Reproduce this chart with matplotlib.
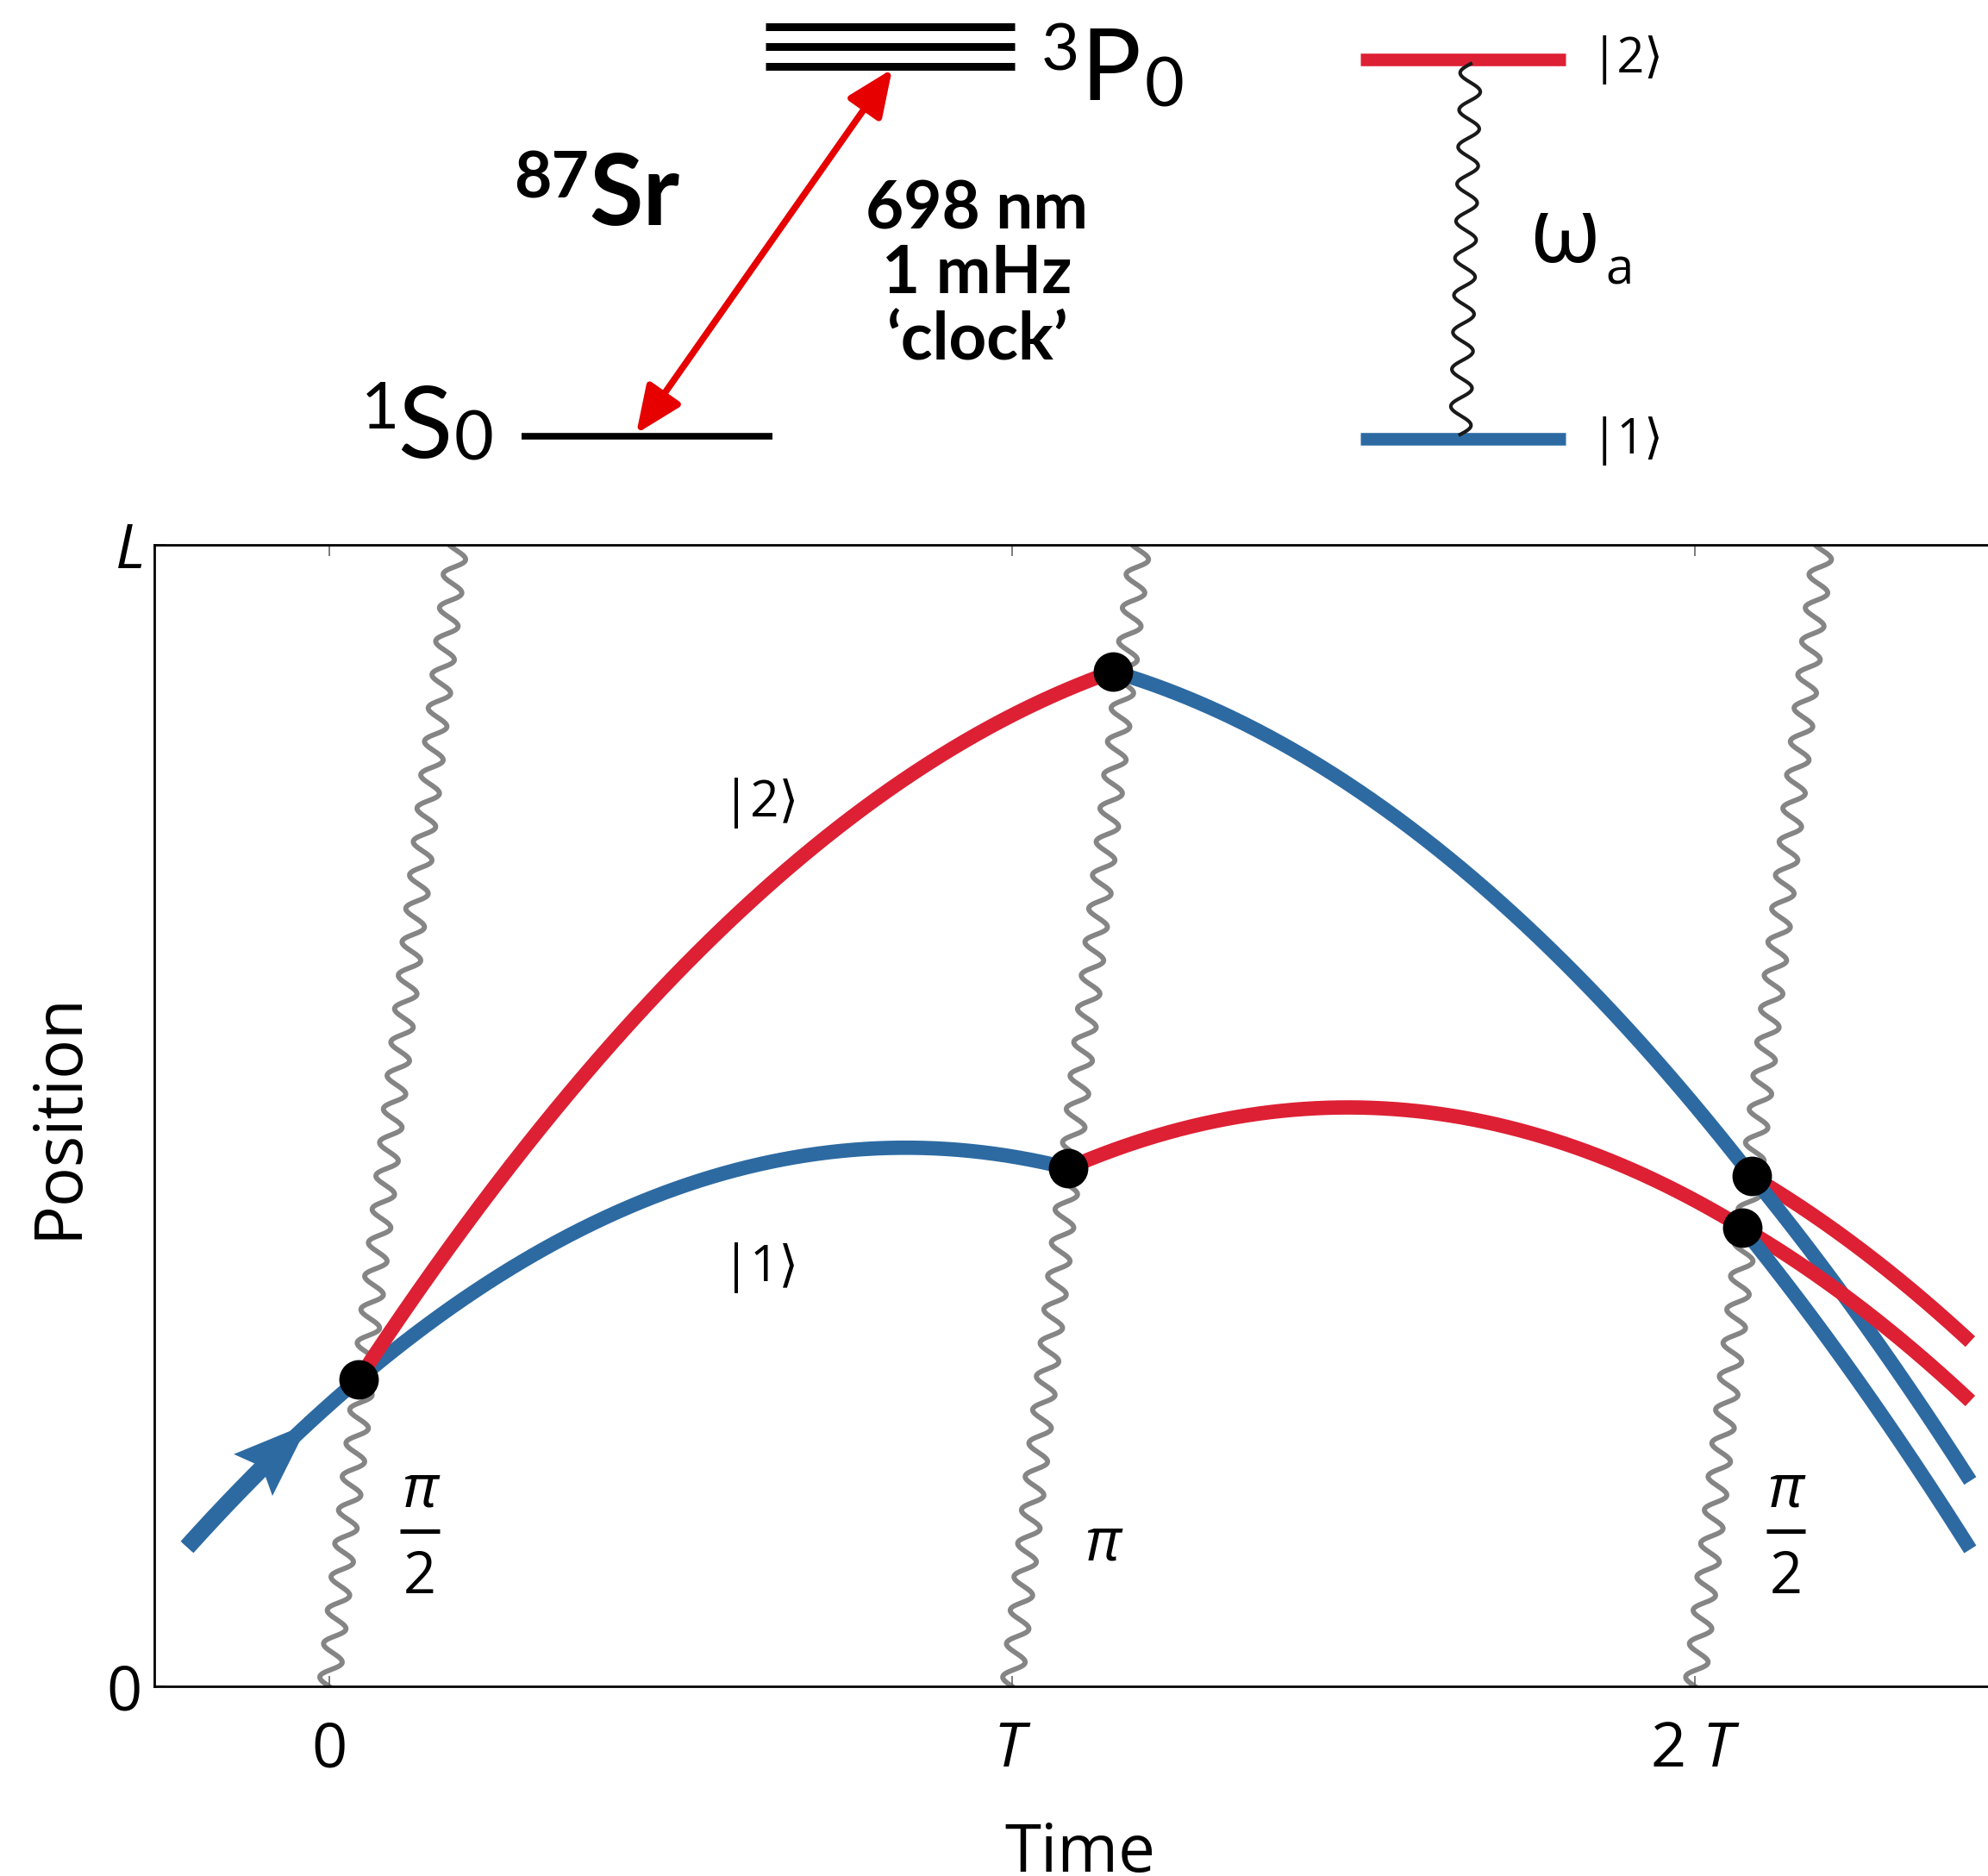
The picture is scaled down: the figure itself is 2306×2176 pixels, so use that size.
import numpy as np
import matplotlib
matplotlib.use("Agg")
import matplotlib.pyplot as plt
from matplotlib.patches import FancyArrowPatch, Polygon

plt.rcParams['font.family'] = ['Open Sans', 'DejaVu Sans']
plt.rcParams['mathtext.fontset'] = 'custom'
plt.rcParams['mathtext.rm'] = 'Open Sans'
plt.rcParams['mathtext.it'] = 'Open Sans:italic'

RED = '#DD2034'
BLUE = '#2D6AA2'
WAVE = '#858585'

# --- interferometer: time in units of T, position in units of L ---
half_g = 0.316                       # same curvature for every free-fall arc
pulse_times = [0, 1, 2]
pulse_labels = ['half', 'pi', 'half']
pulse_lean = 0.187                   # light front reaches x = L this much later
t_launch = -0.208
t_arrow = -0.03
t_end = 2.403

# scattering points (t, x)
nodes = {
    'A': (0.043, 0.269),
    'B': (1.148, 0.889),
    'C': (1.082, 0.454),
    'D': (2.083, 0.447),
    'E': (2.069, 0.402),
}
# the two arms between pulses
arms = [('A', 'C', BLUE), ('A', 'B', RED), ('B', 'D', BLUE), ('C', 'E', RED)]
# output ports: (node, colour, height at t_end)
ports = [('D', RED, 0.302), ('D', BLUE, 0.180), ('E', RED, 0.250), ('E', BLUE, 0.120)]

x_ticks = [0, 1, 2]
x_ticklabels = ['0', '$T$', '2 $T$']
y_ticks = [0, 1]
y_ticklabels = ['0', '$L$']


def arc(p, q, t0=None, t1=None, n=300):
    """parabola through p and q with the common curvature"""
    t0 = p[0] if t0 is None else t0
    t1 = q[0] if t1 is None else t1
    v = (q[1] - p[1]) / (q[0] - p[0]) + half_g * (q[0] - p[0])
    t = np.linspace(t0, t1, n)
    return t, p[1] + v * (t - p[0]) - half_g * (t - p[0]) ** 2


def wavy(p0, p1, period, amp, n=4000):
    p0, p1 = np.asarray(p0, float), np.asarray(p1, float)
    d = p1 - p0
    length = np.hypot(*d)
    u = d / length
    nrm = np.array([-u[1], u[0]])
    s = np.linspace(0, length, n)
    return p0 + np.outer(s, u) + np.outer(amp * np.sin(2 * np.pi * s / period), nrm)


fig = plt.figure(figsize=(23.06, 21.76), dpi=100)
ax = fig.add_axes([179 / 2306, 1 - 1956 / 2176, 1 - 179 / 2306, 1324 / 2176])
ax.set_xlim(-0.256, 2.429)
ax.set_ylim(0, 1)
to_px = ax.transData.transform
from_px = ax.transData.inverted().transform

for side in ['left', 'top', 'bottom']:
    ax.spines[side].set_linewidth(2)
ax.spines['right'].set_visible(False)
ax.set_xticks(x_ticks)
ax.set_xticklabels(x_ticklabels, fontsize=52)
ax.set_yticks(y_ticks)
ax.set_yticklabels(y_ticklabels, fontsize=52)
ax.tick_params(axis='x', direction='in', length=9, width=1.2, color='#666666',
               top=True, pad=28)
ax.tick_params(axis='y', direction='in', length=9, width=1.2, color='#666666', pad=10)
ax.set_xlabel('Time', fontsize=55, va='top')
ax.xaxis.set_label_coords(0.505, -0.118)
ax.set_ylabel('Position', fontsize=55, va='bottom')
ax.yaxis.set_label_coords(-0.034, 0.5)

# laser pulses travelling up through the cloud
for t0 in pulse_times:
    pts = wavy(to_px((t0, 0)), to_px((t0 + pulse_lean, 1)), period=39, amp=12)
    pts = from_px(pts)
    ax.plot(pts[:, 0], pts[:, 1], color=WAVE, lw=4.2, zorder=1)

# pulse areas
for t0, kind in zip(pulse_times, pulse_labels):
    tc = t0 + 0.133
    if kind == 'half':
        ax.text(tc, 0.171, 'π', style='italic', fontsize=50, ha='center', va='center')
        ax.plot([tc - 0.029, tc + 0.029], [0.1356, 0.1356], color='k', lw=3.7,
                solid_capstyle='butt')
        ax.text(tc, 0.095, '2', fontsize=48, ha='center', va='center')
    else:
        ax.text(tc, 0.124, 'π', style='italic', fontsize=50, ha='center', va='center')

# incoming atom and the two arms
lw = 12
for a, b, col in arms:
    t0 = t_launch if (a, b) == ('A', 'C') else None
    t, x = arc(nodes[a], nodes[b], t0=t0)
    ax.plot(t, x, color=col, lw=lw, solid_capstyle='butt', zorder=2)

for node, col, x_end in ports:
    t, x = arc(nodes[node], (t_end, x_end))
    ax.plot(t, x, color=col, lw=lw, solid_capstyle='butt', zorder=2)

# thick launch segment with arrow head
t, x = arc(nodes['A'], nodes['C'], t0=t_launch, t1=t_arrow - 0.06)
ax.plot(t, x, color=BLUE, lw=14.5, solid_capstyle='butt', zorder=2)
tt, xx = arc(nodes['A'], nodes['C'], t0=t_arrow - 0.01, t1=t_arrow, n=2)
p_back, tip = to_px((tt[0], xx[0])), to_px((tt[1], xx[1]))
u = (tip - p_back) / np.hypot(*(tip - p_back))
nrm = np.array([-u[1], u[0]])
head_len, head_w = 88, 66
head = np.array([tip,
                 tip - head_len * u + head_w / 2 * nrm,
                 tip - 0.84 * head_len * u,
                 tip - head_len * u - head_w / 2 * nrm])
ax.add_patch(Polygon(from_px(head), closed=True, facecolor=BLUE, edgecolor='none', zorder=2))

ax.plot([p[0] for p in nodes.values()], [p[1] for p in nodes.values()], 'o',
        color='k', ms=32, zorder=4)

ax.text(0.631, 0.774, '|2⟩', fontsize=42, ha='center', va='center')
ax.text(0.631, 0.367, '|1⟩', fontsize=42, ha='center', va='center')

# --- level diagrams above the plot (pixel coordinates, y down) ---
top = fig.add_axes([0, 1 - 560 / 2176, 1, 560 / 2176])
top.set_xlim(0, 2306)
top.set_ylim(560, 0)
top.axis('off')

for y in [31, 54, 77]:
    top.plot([888, 1177], [y, y], color='k', lw=6.5, solid_capstyle='butt')
top.plot([605, 896], [506, 506], color='k', lw=5.5, solid_capstyle='butt')
top.add_patch(FancyArrowPatch((738, 503), (1035, 80),
                              arrowstyle='<|-|>,head_length=1.5,head_width=0.65',
                              mutation_scale=22, lw=5.5, color='#E60000',
                              shrinkA=0, shrinkB=0))

lato = 'Lato'
top.text(1208, 82, '3', family=lato, fontsize=55, va='baseline')
top.text(1253, 116, 'P', family=lato, fontsize=84, va='baseline')
top.text(1328, 123, '0', family=lato, fontsize=57, va='baseline')
top.text(419, 497, '1', family=lato, fontsize=55, va='baseline')
top.text(461, 531, 'S', family=lato, fontsize=84, va='baseline')
top.text(527, 534, '0', family=lato, fontsize=57, va='baseline')
top.text(596, 229, '87', family=lato, fontsize=54, weight='bold', va='baseline')
top.text(683, 261, 'Sr', family=lato, fontsize=82, weight='bold', va='baseline')
for y, s in zip([265, 340, 418], ['698 nm', '1 mHz', '‘clock’']):
    top.text(1133, y, s, family=lato, fontsize=55, weight='bold', ha='center', va='baseline')

top.plot([1578, 1816], [69, 69], color=RED, lw=10.5, solid_capstyle='butt')
top.plot([1578, 1816], [509, 509], color=BLUE, lw=10.5, solid_capstyle='butt')
w = wavy((1706, 74), (1694, 504), period=43, amp=12)
top.plot(w[:, 0], w[:, 1], color='#1a1a1a', lw=3)
top.text(1846, 69, '|2⟩', fontsize=40, va='center')
top.text(1846, 512, '|1⟩', fontsize=40, va='center')
top.text(1774, 304, 'ω', fontsize=76, va='baseline')
top.text(1862, 330, 'a', fontsize=42, va='baseline')

fig.savefig('out.png', dpi=100)
